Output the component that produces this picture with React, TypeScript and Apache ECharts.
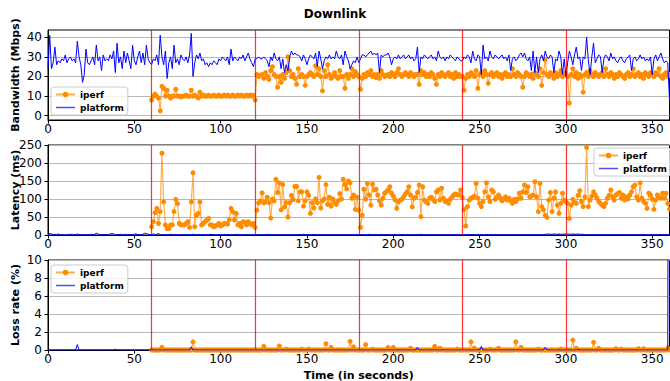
import React, { useEffect, useRef } from "react";
import * as echarts from "echarts";

const FONT = "DejaVu Sans";

const title = "Downlink";
const xTicks = [0, 50, 100, 150, 200, 250, 300, 350];
const bandwidthTicks = [0, 10, 20, 30, 40];
const phaseBoundaries = [60, 120, 180, 240, 300];
const seriesNames = ["iperf", "platform"];

const platformStart = 0;
const iperfStart = 60;
const timeEnd = 360;

// Platform bandwidth (Mbps), one value per second from t=0
const platformBandwidth = [
  24, 41, 24, 27, 35, 26, 28, 27, 29, 28,
  31, 27, 29, 30, 28, 29, 27, 38, 30, 26,
  17, 21, 34, 27, 26, 28, 30, 26, 36, 28,
  30, 23, 31, 28, 29, 28, 31, 29, 33, 22,
  37, 27, 30, 24, 33, 27, 32, 28, 24, 36,
  28, 26, 30, 33, 27, 32, 26, 36, 29, 27,
  26, 29, 28, 31, 26, 41, 30, 26, 33, 19,
  27, 30, 24, 36, 27, 29, 26, 31, 29, 28,
  30, 27, 31, 42, 20, 27, 31, 29, 32, 28,
  29, 26, 27, 25, 27, 26, 28, 27, 26, 29,
  28, 30, 29, 28, 30, 26, 34, 28, 30, 29,
  28, 30, 29, 31, 28, 30, 32, 29, 27, 25,
  29, 29, 30, 29, 29, 30, 29, 28, 25, 30,
  28, 32, 29, 28, 30, 24, 29, 22, 26, 23,
  30, 33, 31, 32, 31, 31, 30, 28, 31, 29,
  26, 29, 31, 30, 29, 32, 25, 33, 29, 24,
  28, 30, 29, 31, 29, 30, 29, 33, 30, 29,
  31, 26, 33, 30, 28, 24, 26, 28, 27, 30,
  27, 29, 31, 31, 30, 31, 32, 33, 31, 32,
  31, 32, 22, 31, 30, 31, 31, 32, 30, 26,
  29, 30, 29, 31, 29, 30, 31, 29, 30, 31,
  29, 30, 28, 29, 35, 22, 30, 29, 31, 30,
  29, 30, 31, 29, 30, 28, 33, 30, 29, 30,
  28, 30, 29, 31, 30, 29, 28, 30, 29, 28,
  28, 30, 29, 31, 30, 27, 33, 29, 28, 31,
  30, 21, 36, 29, 30, 28, 33, 30, 29, 31,
  30, 29, 30, 31, 29, 30, 28, 31, 23, 29,
  30, 28, 29, 31, 32, 30, 32, 29, 28, 30,
  23, 33, 22, 30, 22, 29, 31, 28, 33, 30,
  29, 31, 30, 22, 29, 28, 33, 30, 21, 29,
  20, 27, 33, 30, 26, 31, 35, 29, 30, 23,
  30, 29, 40, 28, 21, 30, 37, 27, 29, 31,
  30, 22, 29, 31, 30, 28, 32, 29, 30, 28,
  27, 29, 30, 28, 27, 29, 30, 31, 23, 29,
  30, 28, 29, 31, 29, 30, 28, 29, 28, 30,
  21, 29, 31, 28, 30, 32, 29, 27, 28, 27,
  8,
];

// iperf bandwidth (Mbps), one value per second from t=60
const iperfBandwidth = [
  8, 10, 11, 10, 9, 2.5, 15, 14, 10, 13,
  10, 9, 10, 10, 13.5, 10, 10, 9.5, 10, 10,
  10.5, 10, 10, 13, 10, 10.5, 10, 9, 12, 10,
  10.5, 10, 10, 10.5, 10, 10, 10.5, 10, 10, 10.5,
  10, 10, 10.5, 10, 10.5, 10, 10, 10.5, 10, 10,
  10.5, 10, 10.5, 10, 10, 10.5, 10, 10.5, 10, 10.5,
  8, 21, 20, 20.5, 21, 19, 22, 20, 18.5, 23,
  25, 21, 20, 14.5, 20, 17, 21, 19, 22, 30,
  23, 20, 21, 19, 16, 24, 20, 21, 20, 15.5,
  20, 21, 22, 21, 20, 25.5, 21, 24, 20, 12.7,
  23, 20, 26, 21, 19, 20, 22, 20, 19, 23,
  20, 20, 14, 21, 19, 21, 24, 20, 22.5, 21,
  20, 13.5, 19, 21, 20, 22, 21, 23, 20, 21,
  19.5, 21, 19, 23, 21, 20, 20.5, 21, 20, 22,
  21, 20, 22, 24, 21, 20, 21, 22, 21, 20,
  22, 21, 20, 21, 21, 16, 23, 21, 22, 20,
  21, 20, 22, 21, 19, 16, 21, 20, 22, 21,
  20, 21, 22, 20, 21, 19, 22, 20, 21, 20,
  20, 13, 19, 21, 20, 22, 21, 20, 23, 14,
  21, 22, 20, 23, 21, 16.5, 21, 22, 20, 21,
  22, 20, 21, 19, 21, 22, 20, 21, 20, 24,
  21, 20, 22, 21, 20, 14.5, 20, 22, 21, 20,
  21, 19, 22, 21, 20, 24, 15.5, 22, 28.5, 21,
  20, 22, 21, 19, 22, 20, 21, 23, 20, 21,
  22, 20, 6.5, 21, 24, 20, 22, 19, 21, 20,
  12, 21, 22, 20, 23, 21, 20, 22, 21, 20,
  21, 22, 20, 24, 21, 20, 22, 21, 19, 21,
  20, 22, 21, 20, 19, 21, 22, 20, 21, 24,
  20, 21, 22, 20, 21, 19, 22, 21, 20, 22,
  21, 20, 22, 21, 24, 20, 19, 21, 22, 20,
  21,
];

// iperf latency (ms), one value per second from t=60
const iperfLatency = [
  23, 37, 62, 74, 32, 65, 227, 92, 28, 18,
  18, 28, 28, 65, 99, 87, 32, 28, 28, 28,
  32, 37, 21, 92, 173, 23, 55, 60, 92, 28,
  32, 37, 42, 46, 28, 28, 23, 25, 28, 32,
  25, 28, 32, 32, 30, 42, 74, 65, 42, 60,
  28, 32, 23, 37, 35, 28, 37, 32, 28, 32,
  21, 69, 89, 95, 117, 89, 92, 105, 90, 47,
  100, 95, 155, 118, 145, 70, 140, 78, 90, 50,
  90, 110, 98, 135, 135, 95, 120, 120, 80, 95,
  120, 110, 60, 90, 75, 100, 90, 160, 75, 95,
  100, 140, 85, 105, 80, 100, 90, 85, 95, 115,
  100, 155, 140, 128, 150, 145, 102, 111, 71, 105,
  69, 21, 55, 127, 100, 143, 111, 83, 141, 125,
  127, 111, 95, 83, 102, 116, 120, 125, 134, 116,
  108, 98, 74, 92, 97, 99, 106, 114, 120, 134,
  111, 78, 102, 105, 118, 139, 51, 134, 97, 92,
  88, 102, 105, 99, 93, 120, 125, 97, 130, 102,
  93, 95, 88, 99, 105, 111, 114, 112, 111, 125,
  104, 71, 25, 79, 97, 102, 105, 108, 143, 102,
  88, 79, 93, 120, 145, 106, 93, 125, 120, 99,
  105, 111, 102, 95, 100, 106, 97, 102, 95, 88,
  99, 93, 100, 116, 102, 120, 139, 118, 134, 106,
  108, 111, 148, 106, 65, 143, 79, 70, 55, 49,
  97, 118, 65, 102, 120, 83, 60, 88, 116, 97,
  92, 88, 46, 83, 99, 90, 88, 110, 123, 93,
  79, 106, 243, 79, 97, 108, 120, 111, 102, 93,
  88, 83, 79, 88, 102, 110, 125, 106, 97, 111,
  115, 118, 102, 111, 97, 106, 100, 111, 120, 134,
  139, 106, 97, 145, 102, 93, 88, 74, 116, 111,
  100, 71, 97, 111, 105, 102, 116, 102, 116, 88,
  72,
];

// platform latency (ms), one value per second from t=0
const platformLatency = [
  2, 4, 3, 1, 2, 1, 3, 1, 1, 1, 0, 1, 1, 2, 1, 1, 1, 3, 1, 1,
  1, 1, 1, 1, 1, 2, 1, 2, 5, 3, 1, 1, 1, 1, 1, 1, 3, 4, 3, 1,
  1, 1, 2, 1, 1, 2, 1, 1, 1, 1, 2, 3, 1, 1, 1, 2, 5, 4, 2, 1,
  1, 3, 1, 2, 4, 1, 1, 1, 1, 1, 1, 2, 1, 1, 1, 1, 1, 1, 1, 1,
  1, 1, 1, 1, 2, 1, 1, 1, 1, 1, 1, 1, 1, 1, 2, 1, 1, 1, 1, 1,
  1, 1, 1, 1, 1, 1, 1, 1, 1, 2, 1, 1, 1, 1, 1, 1, 1, 1, 1, 1,
  1, 1, 1, 1, 1, 1, 1, 2, 1, 1, 1, 1, 1, 1, 1, 1, 1, 1, 1, 1,
  1, 1, 1, 1, 1, 1, 1, 1, 2, 1, 1, 1, 1, 1, 1, 1, 1, 1, 1, 1,
  1, 1, 1, 1, 1, 1, 1, 1, 1, 1, 1, 1, 1, 1, 1, 1, 1, 1, 1, 1,
  1, 1, 1, 1, 1, 1, 2, 1, 1, 1, 1, 1, 1, 1, 1, 1, 1, 1, 1, 1,
  1, 1, 1, 1, 1, 1, 1, 1, 1, 1, 1, 1, 1, 1, 1, 1, 2, 1, 1, 1,
  1, 1, 1, 1, 1, 1, 1, 1, 1, 1, 1, 1, 1, 1, 1, 1, 1, 1, 1, 1,
  1, 1, 1, 1, 1, 1, 1, 1, 1, 1, 1, 1, 1, 1, 1, 1, 1, 1, 1, 1,
  1, 1, 1, 1, 1, 1, 1, 1, 1, 1, 1, 1, 1, 1, 1, 1, 1, 1, 1, 1,
  1, 1, 1, 1, 1, 1, 1, 1, 2, 2, 3, 2, 2, 3, 2, 2, 3, 2, 2, 3,
  2, 3, 2, 2, 3, 2, 2, 3, 2, 2, 2, 1, 1, 1, 1, 1, 1, 1, 1, 1,
  1, 1, 1, 1, 1, 1, 1, 1, 1, 1, 1, 1, 1, 1, 1, 1, 1, 1, 1, 1,
  1, 1, 1, 1, 1, 1, 1, 1, 1, 1, 1, 1, 1, 1, 1, 1, 1, 1, 1, 1,
  1,
];

// Loss rate (%): zero every second except these [time, value] readings
const iperfLossSpikes = [
  [66, 0.3], [84, 0.9], [125, 0.4], [134, 0.45], [138, 0.1], [147, 0.1],
  [151, 0.1], [161, 0.7], [164, 0.3], [175, 0.95], [177, 0.35], [184, 0.6],
  [188, 0.1], [197, 0.3], [200, 0.3], [210, 0.2], [224, 0.4], [227, 0.2],
  [237, 0.1], [245, 0.9], [247, 0.2], [256, 0.1], [261, 0.2], [271, 0.9],
  [274, 0.3], [284, 0.1], [297, 0.1], [304, 1.1], [306, 0.2], [316, 0.85],
  [319, 0.2], [329, 0.15], [332, 0.1], [342, 0.15], [345, 0.15], [359, 0.2],
];
const platformLossSpikes = [
  [17, 0.6], [39, 0.1], [83, 0.35], [214, 0.3], [251, 0.4], [288, 0.3],
  [307, 0.1], [360, 100],
];

const toPairs = (values: number[], start: number) =>
  values.map((v, i) => [start + i, v]);

const lossSeries = (start: number, end: number, spikes: number[][]) => {
  const lookup = new Map<number, number>();
  spikes.forEach(([t, v]) => lookup.set(t, v));
  const out: number[][] = [];
  for (let t = start; t <= end; t++) out.push([t, lookup.get(t) ?? 0]);
  return out;
};

const ORANGE = "#ff8c00";
const BLUE = "#0000ff";

export default function App() {
  const ref = useRef<HTMLDivElement>(null);

  useEffect(() => {
    document.body.style.margin = "0";
    if (!ref.current) return;
    const chart = echarts.init(ref.current, undefined, { renderer: "svg" });

    const grids = [
      { top: 30, height: 90 },
      { top: 145, height: 90 },
      { top: 260, height: 90 },
    ].map((g) => ({
      ...g,
      left: 48,
      right: 0.5,
      show: true,
      borderColor: "#000",
      borderWidth: 1,
      backgroundColor: "transparent",
      containLabel: false,
      outerBoundsMode: "none",
    }));

    const labelStyle = { fontFamily: FONT, fontSize: 12, color: "#000" };
    const nameStyle = { fontFamily: FONT, fontSize: 11, fontWeight: "bold", color: "#000" };

    const xAxes = [0, 1, 2].map((gi) => ({
      type: "value",
      gridIndex: gi,
      min: 0,
      max: timeEnd,
      axisLine: { show: true, onZero: false, lineStyle: { color: "#000", width: 1 } },
      axisTick: { show: true, length: 3.5, customValues: xTicks, lineStyle: { color: "#000" } },
      axisLabel: { ...labelStyle, margin: 3, customValues: xTicks },
      splitLine: { show: false },
      ...(gi === 2
        ? {
            name: "Time (in seconds)",
            nameLocation: "middle",
            nameGap: 20,
            nameMoveOverlap: false,
            nameTextStyle: nameStyle,
          }
        : {}),
    }));

    const yCommon = {
      type: "value",
      nameLocation: "middle",
      nameGap: 27,
      nameMoveOverlap: false,
      nameTextStyle: nameStyle,
      axisLine: { show: true, onZero: false, lineStyle: { color: "#000", width: 1 } },
      splitLine: { show: true, lineStyle: { color: "#b8b8b8", width: 1 } },
    };
    const yAxes = [
      {
        ...yCommon,
        gridIndex: 0,
        min: -2.19,
        max: 43.72,
        name: "Bandwidth (Mbps)",
        axisTick: { show: true, length: 3.5, customValues: bandwidthTicks, lineStyle: { color: "#000" } },
        axisLabel: { ...labelStyle, margin: 6, customValues: bandwidthTicks },
      },
      {
        ...yCommon,
        gridIndex: 1,
        min: 0,
        max: 250,
        interval: 50,
        name: "Latency (ms)",
        axisTick: { show: true, length: 3.5, lineStyle: { color: "#000" } },
        axisLabel: { ...labelStyle, margin: 6 },
      },
      {
        ...yCommon,
        gridIndex: 2,
        min: 0,
        max: 10,
        interval: 2,
        name: "Loss rate (%)",
        axisTick: { show: true, length: 3.5, lineStyle: { color: "#000" } },
        axisLabel: { ...labelStyle, margin: 6 },
      },
    ];

    const iperfSeries = (gi: number, data: number[][]) => ({
      type: "line",
      name: seriesNames[0],
      xAxisIndex: gi,
      yAxisIndex: gi,
      data,
      symbol: "circle",
      symbolSize: 5,
      showSymbol: true,
      showAllSymbol: true,
      itemStyle: { color: ORANGE },
      lineStyle: { color: ORANGE, width: 1.2, opacity: 0.7 },
      emphasis: { disabled: true },
      silent: true,
      z: 3,
    });
    const platformSeries = (gi: number, data: number[][]) => ({
      type: "line",
      name: seriesNames[1],
      xAxisIndex: gi,
      yAxisIndex: gi,
      data,
      symbol: "none",
      itemStyle: { color: BLUE },
      lineStyle: { color: BLUE, width: 1 },
      emphasis: { disabled: true },
      silent: true,
      z: 4,
    });
    const boundarySeries = (gi: number) => ({
      type: "line",
      xAxisIndex: gi,
      yAxisIndex: gi,
      data: [],
      silent: true,
      z: 2,
      markLine: {
        silent: true,
        symbol: ["none", "none"],
        label: { show: false },
        lineStyle: { color: "#ff0000", width: 1.2, type: "solid", opacity: 0.8 },
        data: phaseBoundaries.map((b) => ({ xAxis: b })),
      },
    });

    const legendCommon = {
      orient: "vertical",
      data: [
        { name: seriesNames[0] },
        { name: seriesNames[1], itemStyle: { opacity: 0 }, lineStyle: { color: "#4d4dff", width: 1.5 } },
      ],
      itemWidth: 19,
      itemHeight: 7,
      itemGap: 4,
      padding: [3, 4, 3, 4],
      backgroundColor: "rgba(255,255,255,0.8)",
      borderColor: "#cccccc",
      borderWidth: 1,
      borderRadius: 3,
      selectedMode: false,
      textStyle: { fontFamily: FONT, fontSize: 9, fontWeight: "bold", color: "#000" },
    };

    chart.setOption({
      animation: false,
      backgroundColor: "#fff",
      title: {
        text: title,
        left: "center",
        top: 3,
        textStyle: { fontFamily: FONT, fontSize: 12, fontWeight: "bold", color: "#000" },
      },
      legend: [
        { ...legendCommon, left: 51, top: 87 },
        { ...legendCommon, left: 594, top: 148 },
        { ...legendCommon, left: 51, top: 265 },
      ],
      grid: grids,
      xAxis: xAxes,
      yAxis: yAxes,
      series: [
        boundarySeries(0),
        iperfSeries(0, toPairs(iperfBandwidth, iperfStart)),
        platformSeries(0, toPairs(platformBandwidth, platformStart)),
        boundarySeries(1),
        iperfSeries(1, toPairs(iperfLatency, iperfStart)),
        platformSeries(1, toPairs(platformLatency, platformStart)),
        boundarySeries(2),
        iperfSeries(2, lossSeries(iperfStart, timeEnd, iperfLossSpikes)),
        platformSeries(2, lossSeries(platformStart, timeEnd, platformLossSpikes)),
      ],
    });

    return () => chart.dispose();
  }, []);

  return <div ref={ref} style={{ width: 670, height: 381 }} />;
}
